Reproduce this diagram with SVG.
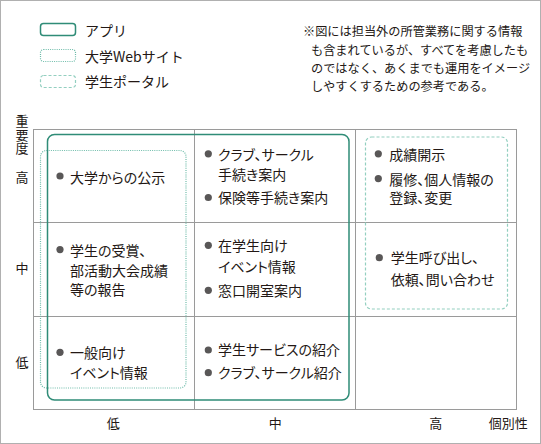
<svg xmlns="http://www.w3.org/2000/svg" width="541" height="444" viewBox="0 0 541 444">
<style>
text{font-family:"Noto Sans CJK JP","Noto Sans",sans-serif;fill:#231815;font-feature-settings:"palt";}
.t{font-size:14px;}
.lg{font-size:14px;font-feature-settings:normal;}
.n{font-size:12.2px;font-feature-settings:normal;}
.ax{font-size:13px;text-anchor:middle;}
.vt{font-size:13px;writing-mode:tb;glyph-orientation-vertical:0;letter-spacing:0.7px;}
.grid{fill:none;stroke:#9a9a9a;stroke-width:1;}
.app{fill:none;stroke:#2f8c77;stroke-width:1.5;}
.web{fill:none;stroke:#6dbba9;stroke-width:1.2;stroke-dasharray:1 1.2;}
.portal{fill:none;stroke:#93cfc0;stroke-width:1.2;stroke-dasharray:3 2;}
.b{fill:#595757;}
</style>
<rect x="0.5" y="0.5" width="540" height="443" fill="#ffffff" stroke="#b0b0b0" stroke-width="1"/>
<g id="legend">
<g id="legend-app"><rect class="app" x="40.5" y="23.5" width="35" height="12" rx="3"/><text class="lg" x="85" y="36">アプリ</text></g>
<g id="legend-web"><rect class="web" x="40.5" y="49.5" width="35" height="12" rx="3"/><text class="lg" x="85" y="62">大学Webサイト</text></g>
<g id="legend-portal"><rect class="portal" x="40.5" y="75.5" width="35" height="12" rx="3"/><text class="lg" x="85" y="86.5">学生ポータル</text></g>
</g>
<g id="note">
<text class="n" x="303" y="36.3">※図には担当外の所管業務に関する情報</text>
<text class="n" x="311" y="54.5">も含まれているが、すべてを考慮したも</text>
<text class="n" x="311" y="72.7">のではなく、あくまでも運用をイメージ</text>
<text class="n" x="311" y="90.7">しやすくするための参考である。</text>
</g>
<g id="grid">
<rect class="grid" x="33.5" y="129.5" width="483" height="280"/>
<line class="grid" x1="194.5" y1="129.5" x2="194.5" y2="409.5"/>
<line class="grid" x1="355.5" y1="129.5" x2="355.5" y2="409.5"/>
<line class="grid" x1="33.5" y1="222.5" x2="516.5" y2="222.5"/>
<line class="grid" x1="33.5" y1="316.5" x2="516.5" y2="316.5"/>
</g>
<g id="axis-y">
<text class="vt" x="22" y="114.5">重要度</text>
<text class="ax" x="22" y="181.7">高</text>
<text class="ax" x="22" y="273.3">中</text>
<text class="ax" x="22" y="366.7">低</text>
</g>
<g id="axis-x">
<text class="ax" x="113.3" y="427.5">低</text>
<text class="ax" x="275.3" y="427.5">中</text>
<text class="ax" x="435.8" y="427.5">高</text>
<text class="ax" x="508.3" y="427.5">個別性</text>
</g>
<g id="box-web"><rect class="web" x="40.5" y="150.5" width="145.5" height="237.5" rx="6"/></g>
<g id="box-app"><rect class="app" x="47.5" y="134.5" width="301.5" height="265.5" rx="7"/></g>
<g id="box-portal"><rect class="portal" x="365.5" y="137" width="142" height="172" rx="6"/></g>
<g id="cell-low-high">
<circle class="b" cx="60" cy="176" r="3.6"/>
<text class="t" x="70" y="182.6">大学からの公示</text>
</g>
<g id="cell-mid-high">
<circle class="b" cx="208.3" cy="153.8" r="3.6"/>
<text class="t" x="218" y="159.6">クラブ、サークル</text>
<text class="t" x="218" y="179.6">手続き案内</text>
<circle class="b" cx="208.3" cy="197.5" r="3.6"/>
<text class="t" x="218" y="203.1">保険等手続き案内</text>
</g>
<g id="cell-high-high">
<circle class="b" cx="378.3" cy="153.8" r="3.6"/>
<text class="t" x="389.3" y="159.6">成績開示</text>
<circle class="b" cx="378.3" cy="178.6" r="3.6"/>
<text class="t" x="389.3" y="184.6">履修、個人情報の</text>
<text class="t" x="389.3" y="203">登録、変更</text>
</g>
<g id="cell-low-mid">
<circle class="b" cx="60" cy="249.6" r="3.6"/>
<text class="t" x="70" y="256.2">学生の受賞、</text>
<text class="t" x="70" y="276.2">部活動大会成績</text>
<text class="t" x="70" y="294.6">等の報告</text>
</g>
<g id="cell-mid-mid">
<circle class="b" cx="208.3" cy="245.3" r="3.6"/>
<text class="t" x="218" y="251.2">在学生向け</text>
<text class="t" x="218" y="272">イベント情報</text>
<circle class="b" cx="208.3" cy="290.3" r="3.6"/>
<text class="t" x="218" y="296.2">窓口開室案内</text>
</g>
<g id="cell-high-mid">
<circle class="b" cx="379.3" cy="257.7" r="3.6"/>
<text class="t" x="390.7" y="262.9">学生呼び出し、</text>
<text class="t" x="390.7" y="284.6">依頼、問い合わせ</text>
</g>
<g id="cell-low-low">
<circle class="b" cx="60" cy="352.3" r="3.6"/>
<text class="t" x="70" y="357.9">一般向け</text>
<text class="t" x="70" y="377.9">イベント情報</text>
</g>
<g id="cell-mid-low">
<circle class="b" cx="208.3" cy="350" r="3.6"/>
<text class="t" x="218" y="355">学生サービスの紹介</text>
<circle class="b" cx="208.3" cy="372.7" r="3.6"/>
<text class="t" x="218" y="378.4">クラブ、サークル紹介</text>
</g>
</svg>
